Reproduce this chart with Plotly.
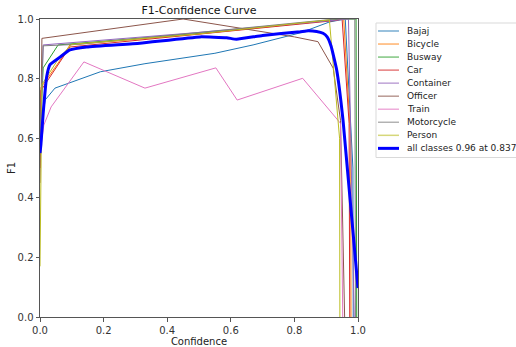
import plotly.graph_objects as go

names = ["Bajaj", "Bicycle", "Busway", "Car", "Container", "Officer", "Train", "Motorcycle", "Person"]
colors = ["#1f77b4", "#ff7f0e", "#2ca02c", "#d62728", "#9467bd", "#8c564b", "#e377c2", "#7f7f7f", "#bcbd22"]

bajaj_x = [0, 0.016, 0.047, 0.19, 0.33, 0.55, 0.67, 0.82, 0.91, 0.96, 0.984, 0.985]
bajaj_y = [0.6, 0.728, 0.768, 0.823, 0.85, 0.885, 0.913, 0.954, 0.99, 1.0, 0.5, 0.0]
bicycle_x = [0, 0.003, 0.07, 0.094, 0.5, 0.93, 0.955, 0.977, 0.978]
bicycle_y = [0.5, 0.77, 0.872, 0.913, 0.95, 0.995, 1.0, 0.6, 0.0]
busway_x = [0, 0.01, 0.057, 0.5, 0.95, 0.994, 0.996]
busway_y = [0.6, 0.836, 0.913, 0.952, 1.0, 1.0, 0.0]
car_x = [0, 0.003, 0.094, 0.5, 0.93, 0.95, 0.972, 0.974]
car_y = [0.5, 0.76, 0.906, 0.95, 0.995, 1.0, 0.65, 0.0]
container_x = [0, 0.01, 0.5, 0.9, 0.97, 0.988]
container_y = [0.55, 0.913, 0.955, 0.995, 1.0, 0.0]
officer_x = [0, 0.006, 0.45, 0.80, 0.874, 0.922, 0.945, 0.958]
officer_y = [0.45, 0.935, 1.0, 0.94, 0.924, 0.835, 0.66, 0.0]
train_x = [0, 0.012, 0.035, 0.138, 0.33, 0.553, 0.62, 0.826, 0.945, 0.952]
train_y = [0.55, 0.644, 0.705, 0.856, 0.768, 0.836, 0.728, 0.801, 0.65, 0.0]
motorcycle_x = [0, 0.01, 0.12, 0.5, 0.93, 0.99, 0.992]
motorcycle_y = [0.6, 0.91, 0.915, 0.955, 1.0, 1.0, 0.0]
person_x = [0, 0.006, 0.06, 0.1, 0.5, 0.91, 0.942, 0.943]
person_y = [0.17, 0.78, 0.87, 0.915, 0.95, 0.997, 0.6, 0.0]

all_x = [0, 0.003, 0.01, 0.021, 0.031, 0.063, 0.094, 0.147, 0.314, 0.503, 0.587, 0.618,
         0.7, 0.818, 0.837, 0.87, 0.89, 0.903, 0.915, 0.933, 0.953, 1.0]
all_y = [0.55, 0.58, 0.684, 0.806, 0.846, 0.872, 0.896, 0.906, 0.919, 0.94, 0.937, 0.932,
         0.945, 0.957, 0.96, 0.958, 0.952, 0.94, 0.91, 0.829, 0.66, 0.097]
all_name = "all classes 0.96 at 0.837"

series = [(bajaj_x, bajaj_y), (bicycle_x, bicycle_y), (busway_x, busway_y), (car_x, car_y),
          (container_x, container_y), (officer_x, officer_y), (train_x, train_y),
          (motorcycle_x, motorcycle_y), (person_x, person_y)]

# plot area geometry (pixels)
L, R, T, B = 40, 358, 19, 317
W, H = 516, 347

def px2paper(px, py):
    return (px - L) / (R - L), (B - py) / (B - T)

fig = go.Figure()
for name, col, (xs, ys) in zip(names, colors, series):
    fig.add_trace(go.Scatter(x=xs, y=ys, mode="lines", name=name, showlegend=False,
                             line=dict(color=col, width=1)))
fig.add_trace(go.Scatter(x=all_x, y=all_y, mode="lines", name=all_name, showlegend=False,
                         line=dict(color="#0000ff", width=3, shape="spline", smoothing=0.4)))

# manual legend (compact, matplotlib-like)
x0, y0 = px2paper(376, 23)
x1, y1 = px2paper(530, 157.5)
fig.add_shape(type="rect", xref="paper", yref="paper", x0=x0, y0=y1, x1=x1, y1=y0,
              line=dict(color="#d9d9d9", width=1), fillcolor="white", layer="above")
labels = names + [all_name]
lcolors = colors + ["#0000ff"]
for i, (lab, col) in enumerate(zip(labels, lcolors)):
    py = 31 + i * 13.04
    lx0, ly = px2paper(378, py)
    lx1, _ = px2paper(399, py)
    tx, _ = px2paper(405, py)
    w = 3 if i == len(labels) - 1 else 1.5
    fig.add_shape(type="line", xref="paper", yref="paper", x0=lx0, y0=ly, x1=lx1, y1=ly,
                  line=dict(color=col, width=w), opacity=1 if w == 3 else 0.6, layer="above")
    fig.add_annotation(xref="paper", yref="paper", x=tx, y=ly, text=lab, showarrow=False,
                       xanchor="left", yanchor="middle",
                       font=dict(size=9, color="#222222"))

axis_common = dict(range=[0, 1], showgrid=False, zeroline=False, showline=True,
                   linecolor="#555555", linewidth=1, mirror=True, ticks="outside",
                   ticklen=3.5, tickcolor="#555555", tickfont=dict(size=10, color="#333333"),
                   tickvals=[0, 0.2, 0.4, 0.6, 0.8, 1.0],
                   ticktext=["0.0", "0.2", "0.4", "0.6", "0.8", "1.0"],
                   automargin=False)

fig.update_layout(
    width=W, height=H,
    margin=dict(l=L, r=W - R, t=T, b=H - B, autoexpand=False),
    paper_bgcolor="white", plot_bgcolor="white",
    font=dict(family="DejaVu Sans", size=10, color="#222222"),
    title=dict(text="F1-Confidence Curve", x=(L + R) / 2 / W, xanchor="center",
               y=1 - 10.5 / H, yanchor="middle", font=dict(size=11, color="#111111")),
    xaxis=dict(title=dict(text="Confidence", font=dict(size=10), standoff=0), **axis_common),
    yaxis=dict(title=dict(text="F1", font=dict(size=10), standoff=0), **axis_common),
    showlegend=False,
)

fig.write_html("out.html", config={"displayModeBar": False},
               post_script="document.body.style.margin='0';document.body.style.overflow='hidden';")
